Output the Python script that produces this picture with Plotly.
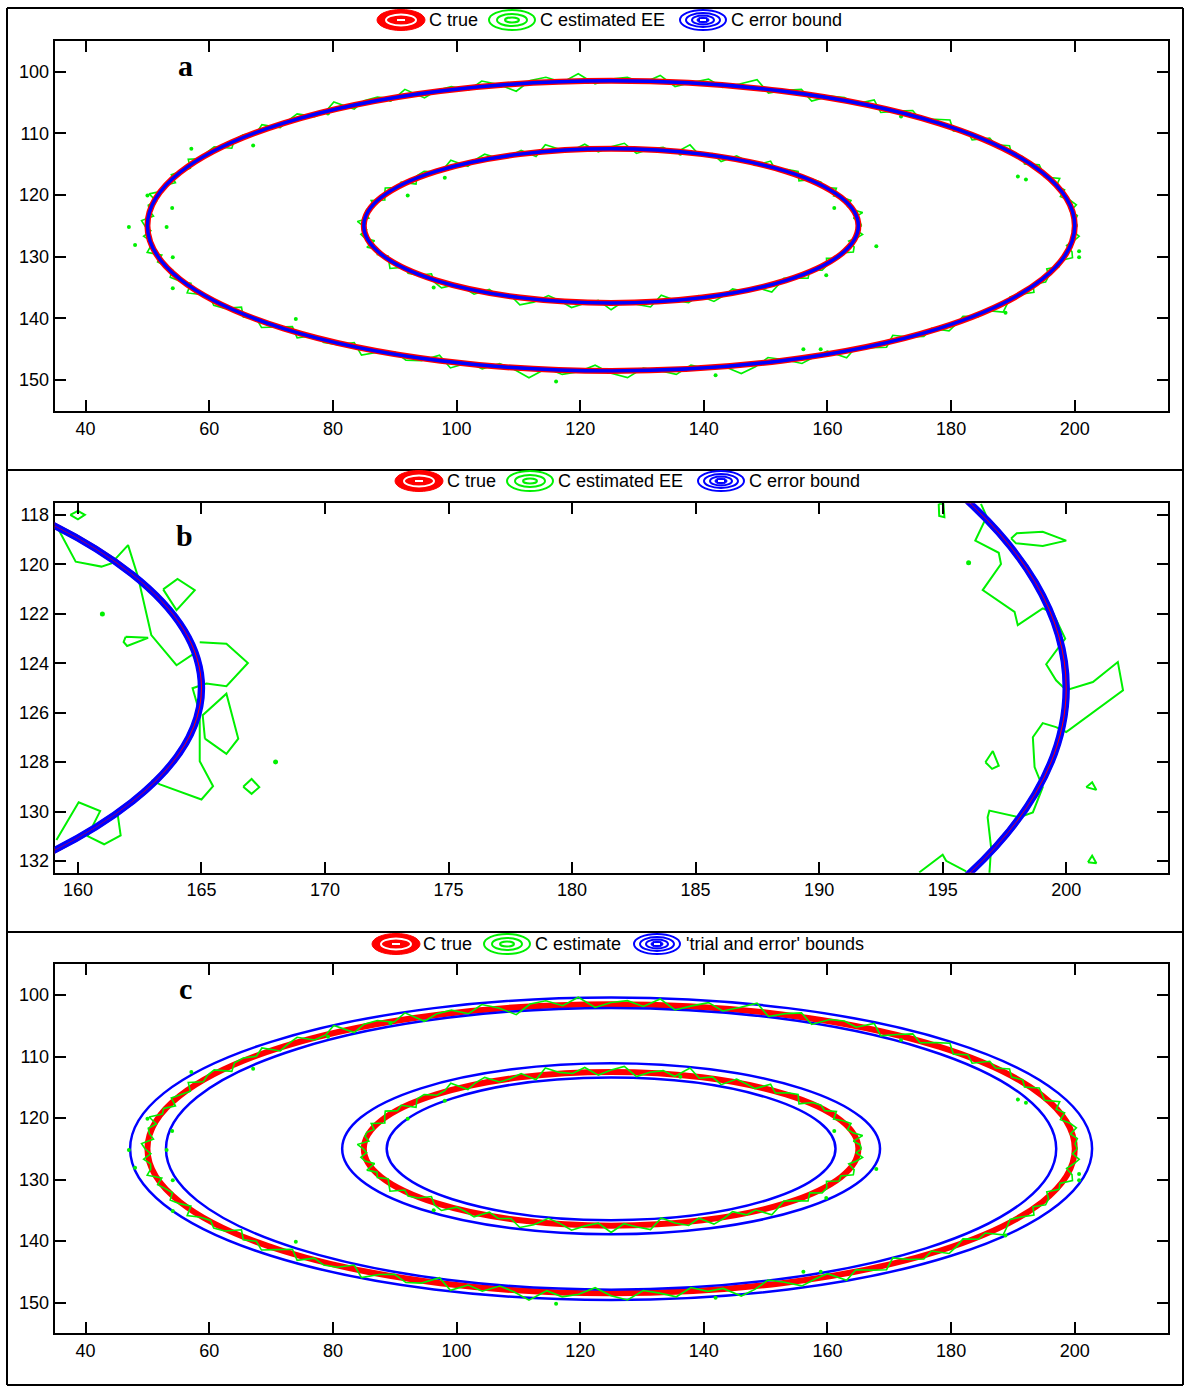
import math
import plotly.graph_objects as go

W, H = 1184, 1388

# ---------------- data ----------------
center = [125.0, 125.0]
true_outer_semi = [75.0, 23.5]
true_inner_semi = [40.0, 12.5]

# error-bound contours (panels a, b): lower / upper bound semi-axes
eb_outer_lo = [74.915, 23.415]
eb_outer_hi = [75.085, 23.585]
eb_inner_lo = [39.915, 12.415]
eb_inner_hi = [40.085, 12.585]

# 'trial and error' bounds (panel c)
te_outer_hi = [77.8, 24.6]
te_outer_lo = [72.0, 22.9]
te_inner_hi = [43.5, 13.9]
te_inner_lo = [36.3, 11.6]

# estimated contour: offset (data units) from the true ellipse
outer_angles = list(range(0, 360, 2))
outer_dev = [
    0.4, -0.3, 0.9, 0.2, -0.6, 0.7, 1.3, -0.2, 0.4, -0.9,
    0.3, 0.8, -0.3, 1.1, 0.1, -0.5, 0.5, 1.5, -0.2, 0.4,
    -0.7, 0.2, 1.0, -0.4, 0.6, 0.0, -1.0, 0.8, 0.3, -0.3,
    1.2, -0.5, 0.1, 0.9, -0.1, -0.8, 0.5, 1.4, -0.1, 0.2,
    -0.6, 0.8, 0.1, -0.4, 1.1, 0.4, -0.9, 0.2, 0.7, -0.2,
    1.5, 0.3, -0.5, 0.6, -0.2, 1.0, -0.9, 0.4, 0.7, -0.4,
    0.1, 1.2, -0.7, 0.3, 0.5, -0.3, 0.9, -0.8, 0.1, 1.1,
    -0.1, 0.5, -1.1, 0.4, 0.8, -0.2, 0.2, 1.3, -0.6, 0.3,
    0.9, -0.4, 0.0, 0.6, -0.7, 1.2, 0.2, -0.1, 0.8, -0.5,
    0.4, 1.0, -0.8, 0.1, 0.6, -0.3, 1.4, -0.2, 0.3, -0.9,
    0.7, 0.1, -0.5, 1.1, -0.3, 0.4, 0.7, -1.0, 0.3, 0.5,
    -0.1, 1.0, -0.6, 0.2, 0.9, -0.4, 0.0, 1.3, -0.7, 0.4,
    0.6, -0.2, 1.1, -0.8, 0.2, 0.5, -0.4, 0.9, 0.1, -1.2,
    0.4, 0.8, -0.1, 1.2, -0.5, 0.3, 0.6, -0.3, 1.0, -0.7,
    0.1, 0.8, -0.4, 0.4, 1.4, -0.6, 0.2, 0.7, -1.0, 0.3,
    0.5, -0.2, 1.1, -0.8, 0.1, 0.9, -0.3, 0.5, 1.2, -0.5,
    0.3, -0.9, 0.7, 0.0, 1.0, -0.2, 0.4, -0.6, 0.8, 0.2,
    -0.4, 1.3, -0.1, 0.6, -0.7, 0.4, 1.0, -0.3, 0.6, 0.1,
]
inner_angles = list(range(0, 360, 3))
inner_dev = [
    0.5, -0.3, 0.9, 0.2, -0.7, 0.7, 1.2, -0.2, 0.4, -0.9,
    0.3, 0.7, -0.3, 1.0, 0.1, -0.5, 0.4, 1.3, -0.2, 0.3,
    -0.7, 0.2, 0.9, -0.4, 0.6, 0.0, -1.0, 0.8, 0.3, -0.3,
    1.1, -0.4, 0.1, 0.9, -0.1, -0.8, 0.5, 1.2, -0.1, 0.2,
    -0.6, 0.7, 0.1, -0.3, 1.0, 0.4, -0.9, 0.2, 0.6, -0.2,
    1.3, 0.3, -0.5, 0.5, -0.2, 0.9, -0.9, 0.3, 0.7, -0.4,
    0.1, 1.1, -0.6, 0.3, 0.4, -0.3, 0.8, -0.8, 0.1, 1.0,
    -0.1, 0.5, -1.0, 0.4, 0.7, -0.2, 0.2, 1.2, -0.6, 0.3,
    0.9, -0.3, 0.0, 0.6, -0.7, 1.1, 0.2, -0.1, 0.8, -0.5,
    0.3, 0.9, -0.7, 0.1, 0.5, -0.3, 1.3, -0.2, 0.3, -0.8,
    0.6, 0.1, -0.4, 1.0, -0.3, 0.4, 0.7, -0.9, 0.3, 0.5,
    -0.1, 0.9, -0.6, 0.2, 0.8, -0.4, 0.0, 1.2, -0.6, 0.3,
]

# isolated estimate specks (panels a, c)
speck_x = [47.0, 54.0, 53.1, 50.0, 67.1, 57.1, 79.2, 89.3, 92.1, 98.1, 190.8, 192.1,
           171.9, 136.2, 161.1, 167.9, 200.7, 200.7, 159.8, 156.1, 158.9, 188.8, 141.9,
           48.0, 54.1, 54.1, 74.0, 96.3, 116.1]
speck_y = [125.2, 122.1, 125.2, 120.1, 112.0, 112.5, 106.8, 104.6, 120.1, 117.2, 117.0, 117.5,
           107.3, 113.3, 122.1, 128.3, 129.1, 130.1, 133.0, 145.0, 145.0, 139.1, 149.2,
           128.1, 130.1, 135.1, 140.1, 135.0, 150.2]

# zoomed estimate pieces (panel b)
zoom_pieces = [
    ([159.69, 160.0, 160.28, 160.0, 159.69], [118.0, 117.84, 118.0, 118.18, 118.0]),
    ([159.09, 159.91, 160.95, 161.35, 162.03, 162.43, 162.97, 163.99, 164.8],
     [118.36, 119.89, 120.09, 119.96, 119.22, 120.5, 122.86, 124.08, 123.54]),
    ([163.45, 164.03, 164.73, 163.99, 163.45], [121.01, 120.59, 121.04, 121.85, 121.01]),
    ([161.93, 162.84, 161.99, 161.85, 161.93], [122.93, 122.97, 123.3, 123.14, 122.93]),
    ([164.93, 166.01, 166.88, 166.01, 165.2, 164.64, 164.93, 164.93, 165.47, 165.0, 163.32, 162.98],
     [123.15, 123.21, 123.99, 124.93, 124.82, 125.01, 126.01, 127.96, 128.97, 129.51, 128.9, 128.73]),
    ([165.14, 165.05, 166.01, 166.49, 166.01, 165.14], [127.05, 126.1, 125.23, 127.05, 127.66, 127.05]),
    ([166.69, 167.03, 167.34, 167.03, 166.69], [128.99, 128.68, 129.01, 129.28, 128.99]),
    ([159.13, 160.03, 160.9, 160.39, 161.06, 161.73, 161.6],
     [131.15, 129.62, 129.98, 130.99, 131.32, 130.96, 130.05]),
    ([194.84, 194.86, 195.07, 195.03, 194.84], [117.55, 118.04, 118.09, 117.55, 117.55]),
    ([196.55, 196.78, 196.32, 197.27, 197.36, 196.62, 197.91, 198.04, 199.05, 199.46, 199.96,
      199.57, 199.19, 199.59, 200.0, 201.08, 202.09, 202.3, 200.0, 199.59, 199.05, 198.65,
      198.72, 199.05, 198.65, 198.11, 196.89, 196.82, 196.96, 196.89],
     [117.55, 118.07, 119.04, 119.53, 119.99, 121.04, 121.92, 122.46, 121.78, 121.96, 123.0,
      123.54, 124.04, 124.69, 125.09, 124.76, 123.95, 125.09, 126.78, 126.58, 126.42, 126.99,
      128.2, 129.01, 130.03, 130.23, 129.96, 130.23, 131.45, 132.53]),
    ([197.77, 198.0, 199.05, 200.0, 199.05, 197.97, 197.77], [118.95, 118.74, 118.68, 119.04, 119.26, 119.15, 118.95]),
    ([196.73, 197.03, 197.27, 197.0, 196.73], [128.0, 127.55, 128.14, 128.27, 128.0]),
    ([200.81, 201.05, 201.22, 200.81], [129.01, 128.81, 129.12, 129.01]),
    ([200.88, 201.05, 201.22, 200.88], [132.05, 131.78, 132.09, 132.05]),
    ([194.05, 195.0, 195.14, 195.95], [132.46, 131.74, 131.99, 132.42]),
]
zoom_specks_x = [160.99, 168.0, 196.05]
zoom_specks_y = [122.01, 127.99, 119.93]

x_ticks_ac = [40, 60, 80, 100, 120, 140, 160, 180, 200]
y_ticks_ac = [100, 110, 120, 130, 140, 150]
x_ticks_b = [160, 165, 170, 175, 180, 185, 190, 195, 200]
y_ticks_b = [118, 120, 122, 124, 126, 128, 130, 132]

RED, GREEN, BLUE = "rgb(255,0,0)", "rgb(0,240,0)", "rgb(0,0,255)"
FONT = "Liberation Sans, Arial, sans-serif"


def estimate_curve(semi, angles, dev):
    xs, ys = [], []
    for t, d in zip(angles + angles[:1], dev + dev[:1]):
        xs.append(center[0] + (semi[0] + d) * math.cos(math.radians(t)))
        ys.append(center[1] + (semi[1] + d) * math.sin(math.radians(t)))
    return xs, ys


fig = go.Figure()
shapes = []
annotations = []


def ellipse(semi, xr, yr, color, width, layer):
    shapes.append(dict(type="circle", xref=xr, yref=yr, layer=layer,
                       x0=center[0] - semi[0], x1=center[0] + semi[0],
                       y0=center[1] - semi[1], y1=center[1] + semi[1],
                       line=dict(color=color, width=width)))


# ---- traces for estimate ----
for (xa, ya) in [("x", "y"), ("x3", "y3")]:
    for semi, ang, dev in [(true_outer_semi, outer_angles, outer_dev),
                           (true_inner_semi, inner_angles, inner_dev)]:
        ex, ey = estimate_curve(semi, ang, dev)
        fig.add_trace(go.Scatter(x=ex, y=ey, mode="lines", xaxis=xa, yaxis=ya,
                                 line=dict(color=GREEN, width=1.6), showlegend=False,
                                 hoverinfo="skip"))
    fig.add_trace(go.Scatter(x=speck_x, y=speck_y, mode="markers", xaxis=xa, yaxis=ya,
                             marker=dict(color=GREEN, size=4), showlegend=False,
                             hoverinfo="skip"))

for px_, py_ in zoom_pieces:
    fig.add_trace(go.Scatter(x=px_, y=py_, mode="lines", xaxis="x2", yaxis="y2",
                             line=dict(color=GREEN, width=2), showlegend=False,
                             hoverinfo="skip"))
fig.add_trace(go.Scatter(x=zoom_specks_x, y=zoom_specks_y, mode="markers", xaxis="x2", yaxis="y2",
                         marker=dict(color=GREEN, size=5), showlegend=False, hoverinfo="skip"))

# ---- contour shapes ----
for xr, yr, bw in [("x", "y", 2.4), ("x2", "y2", 3.2)]:
    for semi in [true_outer_semi, true_inner_semi]:
        ellipse(semi, xr, yr, RED, 6, "above")
    for semi in [eb_outer_lo, eb_outer_hi, eb_inner_lo, eb_inner_hi]:
        ellipse(semi, xr, yr, BLUE, bw, "above")
for semi in [true_outer_semi, true_inner_semi]:
    ellipse(semi, "x3", "y3", RED, 6, "below")
for semi in [te_outer_hi, te_outer_lo, te_inner_hi, te_inner_lo]:
    ellipse(semi, "x3", "y3", BLUE, 2.5, "below")

# ---- panel frames ----
def px_line(x0, y0, x1, y1):
    shapes.append(dict(type="line", xref="paper", yref="paper",
                       x0=x0 / W, x1=x1 / W, y0=1 - y0 / H, y1=1 - y1 / H,
                       line=dict(color="black", width=2)))

for yy in [8, 470, 932, 1385]:
    px_line(7, yy, 1183, yy)
px_line(7, 8, 7, 1385)
px_line(1183, 8, 1183, 1385)


# ---- custom legends ----
def pell(cx, cy, w, h, color, width, fill=None):
    d = dict(type="circle", xref="paper", yref="paper",
             x0=(cx - w / 2) / W, x1=(cx + w / 2) / W,
             y0=1 - (cy + h / 2) / H, y1=1 - (cy - h / 2) / H,
             line=dict(color=color, width=width))
    if fill:
        d["fillcolor"] = fill
    shapes.append(d)


def pdash(cx, cy, half, color):
    shapes.append(dict(type="line", xref="paper", yref="paper",
                       x0=(cx - half) / W, x1=(cx + half) / W, y0=1 - cy / H, y1=1 - cy / H,
                       line=dict(color=color, width=2)))


def legend(cy, items):
    for icon, cx, tx, label in items:
        if icon == "red":
            pell(cx, cy, 48, 21, RED, 1, RED)
            pell(cx, cy, 30, 11, "white", 2)
            pdash(cx, cy, 4, "white")
        elif icon == "green":
            pell(cx, cy, 46, 20, GREEN, 2)
            pell(cx, cy, 30, 12, GREEN, 2)
            pell(cx, cy, 14, 5, GREEN, 2)
        else:
            pell(cx, cy, 46, 20, BLUE, 2)
            pell(cx, cy, 34, 14, BLUE, 2)
            pell(cx, cy, 22, 9, BLUE, 2)
            pell(cx, cy, 12, 6, BLUE, 1, BLUE)
            pdash(cx, cy, 3, "white")
        annotations.append(dict(xref="paper", yref="paper", x=tx / W, y=1 - cy / H,
                                xanchor="left", yanchor="middle", showarrow=False,
                                text=label, font=dict(family=FONT, size=18, color="black")))


legend(20, [("red", 401, 427, "C true"), ("green", 512, 538, "C estimated EE"),
            ("blue", 703, 729, "C error bound")])
legend(481, [("red", 419, 445, "C true"), ("green", 530, 556, "C estimated EE"),
             ("blue", 721, 747, "C error bound")])
legend(944, [("red", 396, 421, "C true"), ("green", 507, 533, "C estimate"),
             ("blue", 657, 684, "'trial and error' bounds")])

# panel letters
for xr, yr, x, y, t in [("x", "y", 56.2, 99.0, "a"), ("x2", "y2", 164.3, 118.85, "b"),
                        ("x3", "y3", 56.2, 99.0, "c")]:
    annotations.append(dict(xref=xr, yref=yr, x=x, y=y, text="<b>%s</b>" % t, showarrow=False,
                            font=dict(family="Liberation Serif, Times New Roman, serif",
                                      size=30, color="black")))


def axis(rng, dom, ticks, anchor):
    return dict(range=rng, domain=dom, anchor=anchor, tickvals=ticks, showgrid=False,
                zeroline=False, showline=True, linecolor="black", linewidth=2, mirror="ticks",
                ticks="inside", ticklen=11, tickwidth=2, tickcolor="black",
                tickfont=dict(family=FONT, size=18, color="black"))


xd = [54.7 / W, 1167.5 / W]
fig.update_layout(
    width=W, height=H, margin=dict(l=0, r=0, t=0, b=0),
    paper_bgcolor="white", plot_bgcolor="white", showlegend=False,
    xaxis=axis([35, 215], xd, x_ticks_ac, "y"),
    yaxis=axis([155, 95], [1 - 411 / H, 1 - 40.7 / H], y_ticks_ac, "x"),
    xaxis2=axis([159.06, 204.1], xd, x_ticks_b, "y2"),
    yaxis2=axis([132.47, 117.53], [1 - 872.7 / H, 1 - 503.3 / H], y_ticks_b, "x2"),
    xaxis3=axis([35, 215], xd, x_ticks_ac, "y3"),
    yaxis3=axis([155, 95], [1 - 1333.3 / H, 1 - 964.3 / H], y_ticks_ac, "x3"),
    shapes=shapes, annotations=annotations,
)

fig.write_html("out.html")
